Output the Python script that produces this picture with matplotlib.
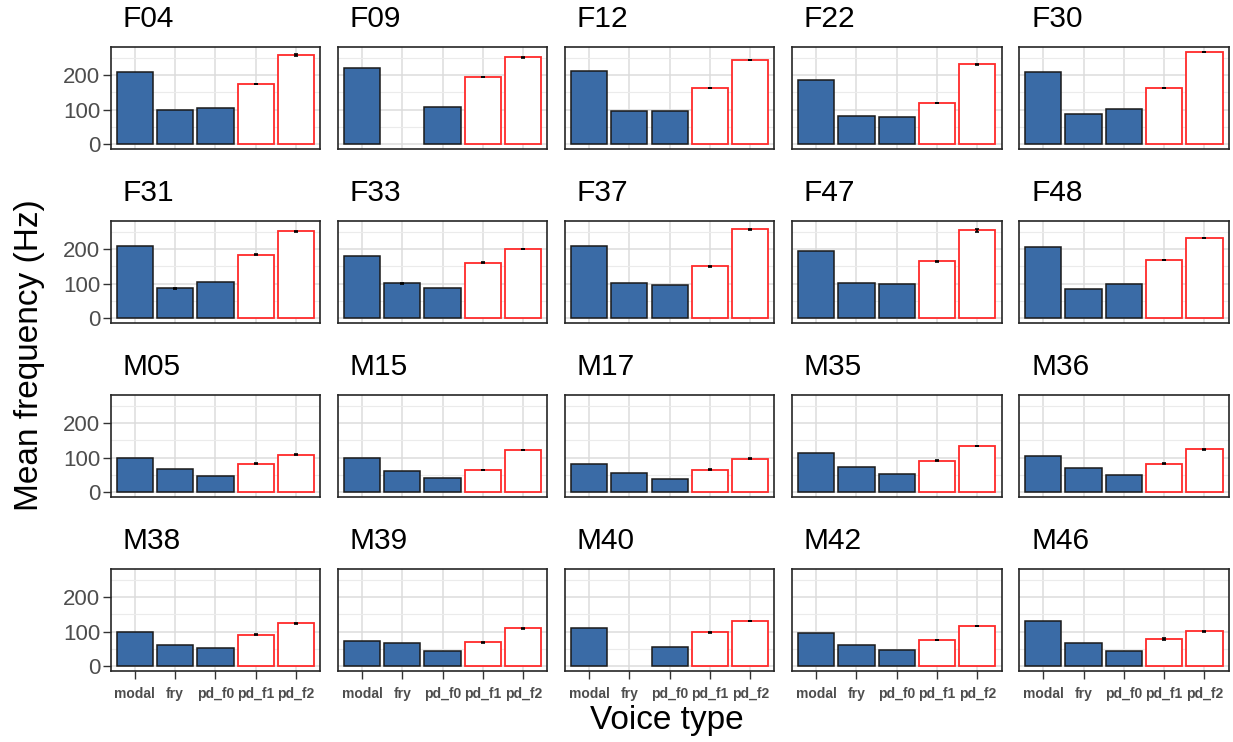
import numpy as np
import matplotlib
matplotlib.use("Agg")
import matplotlib.pyplot as plt

plt.rcParams["font.family"] = ["Liberation Sans", "DejaVu Sans"]

speakers = ["F04", "F09", "F12", "F22", "F30",
            "F31", "F33", "F37", "F47", "F48",
            "M05", "M15", "M17", "M35", "M36",
            "M38", "M39", "M40", "M42", "M46"]
voice_types = ["modal", "fry", "pd_f0", "pd_f1", "pd_f2"]

# mean frequency per speaker (Hz); nan = no fry tokens
modal = [210, 221, 213, 186, 209, 210, 179, 210, 194, 205,
         99, 100, 83, 114, 105, 98, 74, 111, 97, 132]
fry = [99, np.nan, 95, 82, 87, 87, 101, 103, 103, 86,
       67, 61, 56, 73, 69, 63, 67, np.nan, 63, 67]
pd_f0 = [104, 109, 97, 78, 101, 105, 89, 96, 99, 98,
         48, 42, 38, 54, 50, 52, 43, 55, 47, 45]
pd_f1 = [174, 195, 163, 119, 162, 184, 161, 150, 165, 169,
         83, 65, 65, 92, 83, 92, 69, 98, 77, 80]
pd_f2 = [259, 251, 244, 232, 267, 251, 200, 257, 254, 232,
         109, 123, 97, 133, 124, 124, 110, 131, 116, 102]

# standard errors
se_modal = [0] * 20
se_fry = [0, 0, 0, 0, 0, 1, 2.5, 0, 0, 0,
          0, 0, 0, 0, 0, 0, 0, 0, 0, 0]
se_pd_f0 = [0] * 20
se_pd_f1 = [0.8, 0.8, 0.8, 0.8, 0.5, 1, 0.8, 0.8, 0.8, 0.8,
            0.8, 0.8, 1.5, 0.5, 0.5, 0.8, 0.5, 0.3, 0.5, 3]
se_pd_f2 = [2.5, 0.8, 1, 1.5, 0.8, 1.5, 0.5, 0.8, 3.5, 1,
            1.5, 0.5, 2, 0.5, 0.5, 2.5, 1.5, 0.5, 0.5, 1.5]

means = np.array([modal, fry, pd_f0, pd_f1, pd_f2]).T
errs = np.array([se_modal, se_fry, se_pd_f0, se_pd_f1, se_pd_f2]).T

W, H = 1233, 742
fig = plt.figure(figsize=(W / 100, H / 100), dpi=100)
fig.patch.set_facecolor("white")

ymax = np.nanmax(means + errs)
ylim = (-0.05 * ymax, 1.05 * ymax)

blue = "#3A6BA6"
red = "#FF2A2A"
grid_col = "#DCDCDC"
text_col = "#4D4D4D"

x = np.arange(len(voice_types))
pan_w, pan_h = 209.5, 102
for i, spk in enumerate(speakers):
    row, col = divmod(i, 5)
    left = 110.7 + 227.1 * col
    top = 47 + 174 * row
    ax = fig.add_axes([left / W, 1 - (top + pan_h) / H, pan_w / W, pan_h / H])

    vals = means[i]
    ok = ~np.isnan(vals)
    filled = ok & (x < 3)
    hollow = ok & (x >= 3)
    ax.bar(x[filled], vals[filled], width=0.9, color=blue,
           edgecolor="#1A1A1A", linewidth=1.1, zorder=3)
    ax.bar(x[hollow], vals[hollow], width=0.9, color="white",
           edgecolor=red, linewidth=1.3, zorder=3)
    has_err = ok & (errs[i] > 0)
    ax.errorbar(x[has_err], vals[has_err], yerr=errs[i][has_err], fmt="none",
                ecolor="black", elinewidth=1.2, capsize=1.5,
                capthick=1.2, zorder=4)

    ax.set_xlim(-0.6, 4.6)
    ax.set_ylim(*ylim)
    ax.set_yticks([0, 100, 200])
    ax.set_yticks([50, 150, 250], minor=True)
    ax.set_xticks(x)
    ax.grid(True, which="major", color=grid_col, linewidth=1.1, zorder=0)
    ax.grid(True, which="minor", axis="y", color="#EBEBEB",
            linewidth=0.8, zorder=0)
    ax.set_axisbelow(True)
    for s in ax.spines.values():
        s.set_color("#262626")
        s.set_linewidth(1.2)
    ax.tick_params(which="minor", length=0)
    ax.tick_params(which="major", color="#333333", width=1.0, length=5.5)

    if col == 0:
        ax.set_yticklabels(["0", "100", "200"], fontsize=16, color=text_col)
        ax.tick_params(axis="y", pad=2)
    else:
        ax.tick_params(axis="y", length=0, labelleft=False)
    if row == 3:
        ax.set_xticklabels(voice_types, fontsize=10, fontweight="bold",
                           color=text_col)
        ax.tick_params(axis="x", pad=6)
    else:
        ax.tick_params(axis="x", length=0, labelbottom=False)

    fig.text((left + 12) / W, 1 - (top - 28) / H, spk, fontsize=21.5,
             ha="left", va="center", color="black")

fig.text(30 / W, 1 - 355 / H, "Mean frequency (Hz)", rotation=90,
         fontsize=24, ha="center", va="center")
fig.text(667 / W, 1 - 720 / H, "Voice type", fontsize=24,
         ha="center", va="center")

fig.savefig("out.png", dpi=100, facecolor="white")
